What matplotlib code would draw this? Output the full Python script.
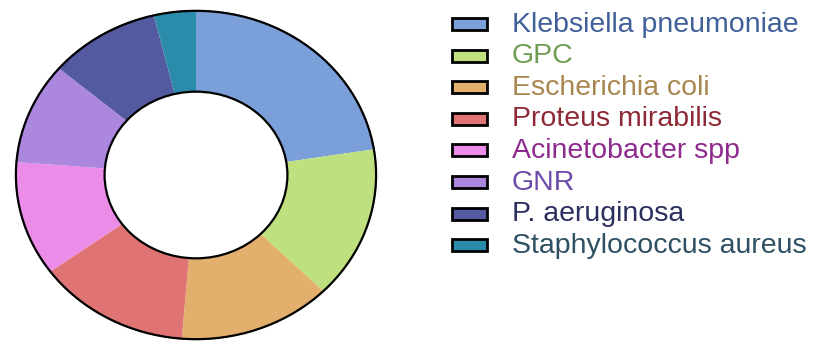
import matplotlib
matplotlib.use("Agg")
import matplotlib.pyplot as plt
from matplotlib.patches import Circle, Rectangle

plt.rcParams['font.family'] = ['Liberation Sans', 'DejaVu Sans']

# Isolated organisms (counts)
organisms = ["Klebsiella pneumoniae", "GPC", "Escherichia coli", "Proteus mirabilis",
             "Acinetobacter spp", "GNR", "P. aeruginosa", "Staphylococcus aureus"]
counts = [18, 12, 11, 11, 9, 8, 8, 3]
fill_colors = ["#7b9fd8", "#bfe07f", "#e2b06c", "#e07474",
               "#ec8ce9", "#ab88dd", "#545a9f", "#2b8bab"]
text_colors = ["#40609a", "#6f9d52", "#a8874f", "#8e2a35",
               "#8e2a8e", "#6c4ba8", "#2b2f5e", "#2e5062"]

W, H = 825, 345
fig = plt.figure(figsize=(W / 100, H / 100), dpi=100)
ax = fig.add_axes([15 / W, 5 / H, 362 / W, 330 / H])

ring_width = 0.495
ax.pie(counts, colors=fill_colors, startangle=90, counterclock=False,
       radius=1.0, wedgeprops=dict(width=ring_width, linewidth=0))
ax.set_aspect('auto')
ax.set_xlim(-1.0, 1.0)
ax.set_ylim(-1.0, 1.0)

# Black outlines on the outer and inner edge of the ring
for r in (0.995, 1.0 - ring_width):
    ax.add_patch(Circle((0, 0), r, fill=False, edgecolor="black",
                        linewidth=1.6, clip_on=False, zorder=5))
ax.axis('off')

# Legend: swatch + coloured label per organism
row0, row_step = 24, 31.6
sw_x, sw_w, sw_h = 452, 35, 12
txt_x, fsize = 512, 20.5
for i, (name, fc, tc) in enumerate(zip(organisms, fill_colors, text_colors)):
    yc = row0 + row_step * i
    fig.patches.append(Rectangle(((sw_x) / W, 1 - (yc + sw_h / 2) / H), sw_w / W, sw_h / H,
                                 transform=fig.transFigure, facecolor=fc,
                                 edgecolor="black", linewidth=2.0))
    fig.text(txt_x / W, 1 - (yc + 7.5) / H, name, color=tc, fontsize=fsize,
             ha="left", va="baseline")

fig.savefig("out.png", dpi=100)
